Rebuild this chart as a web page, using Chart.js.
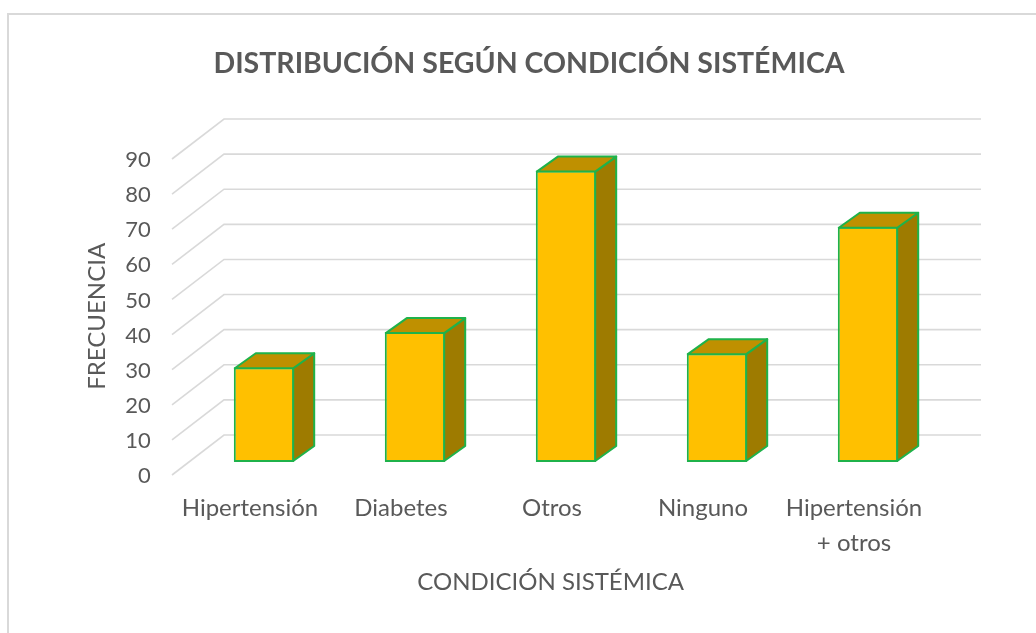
<!DOCTYPE html>
<html lang="es">
<head>
<meta charset="utf-8">
<title>Distribución según condición sistémica</title>
<script src="https://cdn.jsdelivr.net/npm/chart.js@4.4.0/dist/chart.umd.min.js"></script>
<style>
    html, body { margin: 0; padding: 0; background: #ffffff; overflow: hidden; }
    #grafica { display: block; }
</style>
</head>
<body>
<canvas id="grafica" width="1036" height="633"></canvas>
<script>
// Datos
const categorias = ['Hipertensión', 'Diabetes', 'Otros', 'Ninguno', ['Hipertensión', '+ otros']];
const frecuencias = [27, 37, 83, 31, 67];
const valoresEje = [0, 10, 20, 30, 40, 50, 60, 70, 80, 90];

// Colores
const COLOR_TEXTO = '#595959';
const COLOR_REJILLA = '#d9d9d9';
const COLOR_FRENTE = '#FFC000';
const COLOR_TAPA = '#BF9000';
const COLOR_LADO = '#9E7B00';
const COLOR_BORDE = '#1FB24A';

// Profundidad de la perspectiva
const PROF_X = 21;
const PROF_Y = -15;

// Marco gris alrededor del gráfico
const marcoPlugin = {
    id: 'marco',
    beforeDraw(chart) {
        const ctx = chart.ctx;
        ctx.save();
        ctx.fillStyle = '#ffffff';
        ctx.fillRect(0, 0, chart.width, chart.height);
        ctx.fillStyle = '#d9d9d9';
        ctx.fillRect(7, 13, chart.width, 2);
        ctx.fillRect(7, 13, 2, chart.height);
        ctx.restore();
    }
};

// Rejilla en perspectiva (suelo + pared del fondo)
const rejillaPlugin = {
    id: 'rejilla3d',
    beforeDatasetsDraw(chart) {
        const ctx = chart.ctx;
        const area = chart.chartArea;
        const escalaY = chart.scales.y;
        ctx.save();
        ctx.strokeStyle = COLOR_REJILLA;
        ctx.lineWidth = 1.6;
        escalaY.ticks.forEach(t => {
            const y = escalaY.getPixelForValue(t.value);
            ctx.beginPath();
            ctx.moveTo(area.left - 16.5, y + 13);
            ctx.lineTo(area.left + 35.5, y - 27);
            ctx.lineTo(area.right + 37.5, y - 27);
            ctx.stroke();
        });
        ctx.restore();
    }
};

// Caras superior y lateral de cada barra
const barras3dPlugin = {
    id: 'barras3d',
    afterDatasetsDraw(chart) {
        const ctx = chart.ctx;
        const meta = chart.getDatasetMeta(0);
        ctx.save();
        ctx.lineWidth = 2;
        ctx.lineJoin = 'round';
        ctx.strokeStyle = COLOR_BORDE;
        meta.data.forEach(barra => {
            const { x, y, base, width } = barra.getProps(['x', 'y', 'base', 'width'], true);
            const izq = x - width / 2 + 1;
            const der = x + width / 2 - 1;
            const top = y + 1;
            const fondo = base - 1;

            // lateral
            ctx.beginPath();
            ctx.moveTo(der, top);
            ctx.lineTo(der + PROF_X, top + PROF_Y);
            ctx.lineTo(der + PROF_X, fondo + PROF_Y);
            ctx.lineTo(der, fondo);
            ctx.closePath();
            ctx.fillStyle = COLOR_LADO;
            ctx.fill();
            ctx.stroke();

            // tapa
            ctx.beginPath();
            ctx.moveTo(izq, top);
            ctx.lineTo(izq + PROF_X, top + PROF_Y);
            ctx.lineTo(der + PROF_X, top + PROF_Y);
            ctx.lineTo(der, top);
            ctx.closePath();
            ctx.fillStyle = COLOR_TAPA;
            ctx.fill();
            ctx.stroke();
        });
        ctx.restore();
    }
};

const ctx = document.getElementById('grafica').getContext('2d');
const grafica = new Chart(ctx, {
    type: 'bar',
    data: {
        labels: categorias,
        datasets: [{
            label: 'Frecuencia',
            data: frecuencias,
            backgroundColor: COLOR_FRENTE,
            borderColor: COLOR_BORDE,
            borderWidth: 2,
            borderSkipped: false,
            categoryPercentage: 1,
            barPercentage: 0.4
        }]
    },
    options: {
        responsive: false,
        animation: false,
        layout: {
            padding: { left: 22, right: 0, top: 14, bottom: 0 }
        },
        plugins: {
            legend: { display: false },
            tooltip: { enabled: false },
            title: {
                display: true,
                text: 'DISTRIBUCIÓN SEGÚN CONDICIÓN SISTÉMICA',
                color: COLOR_TEXTO,
                font: { family: 'Lato', size: 28.5, weight: 'bold', lineHeight: 1.2 },
                padding: { top: 33, bottom: 64.8 }
            }
        },
        scales: {
            x: {
                offset: true,
                grid: { display: false, drawTicks: false },
                border: { display: false },
                ticks: {
                    color: COLOR_TEXTO,
                    font: { family: 'Lato', size: 24, lineHeight: 1.458 },
                    padding: 28.5,
                    labelOffset: -14,
                    maxRotation: 0,
                    autoSkip: false
                },
                title: {
                    display: true,
                    text: 'CONDICIÓN SISTÉMICA     ',
                    color: COLOR_TEXTO,
                    font: { family: 'Lato', size: 24, lineHeight: 1.2 },
                    padding: { top: 0, bottom: 36.6 }
                },
                afterFit(escala) {
                    escala.height = 633 - 462;
                }
            },
            y: {
                min: 0,
                max: 90,
                grid: { display: false, drawTicks: false },
                border: { display: false },
                afterBuildTicks(escala) {
                    escala.ticks = valoresEje.map(v => ({ value: v }));
                },
                ticks: {
                    color: COLOR_TEXTO,
                    font: { family: 'Lato', size: 22 },
                    padding: 37.8,
                    labelOffset: 14
                },
                title: {
                    display: true,
                    text: 'FRECUENCIA    ',
                    color: COLOR_TEXTO,
                    font: { family: 'Lato', size: 24, lineHeight: 1.2 },
                    padding: { top: 60.6, bottom: 0 }
                },
                afterFit(escala) {
                    escala.width = 166.5;
                }
            },
            // eje vacío a la derecha: solo reserva el margen derecho
            yDer: {
                position: 'right',
                display: true,
                min: 0,
                max: 90,
                grid: { display: false, drawTicks: false },
                border: { display: false },
                ticks: { display: false },
                afterFit(escala) {
                    escala.width = 92.5;
                }
            }
        }
    },
    plugins: [marcoPlugin, rejillaPlugin, barras3dPlugin]
});
</script>
</body>
</html>
